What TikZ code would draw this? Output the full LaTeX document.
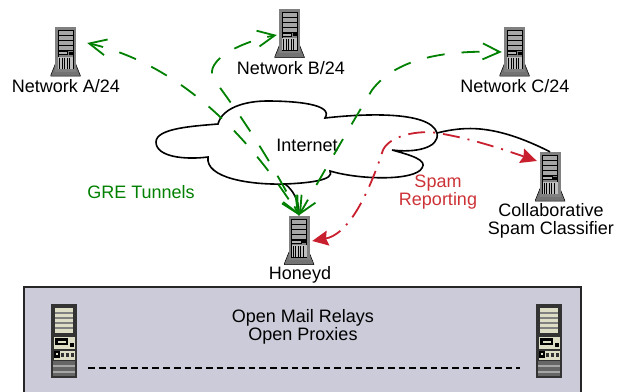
\documentclass[tikz,border=0pt]{standalone}
\usepackage{fontspec}
\setmainfont{Liberation Sans}
\usetikzlibrary{arrows.meta}
\definecolor{tunnelgreen}{RGB}{0,128,0}
\definecolor{spamred}{RGB}{200,32,46}
\definecolor{spamtext}{RGB}{205,50,55}
\definecolor{relaygray}{RGB}{203,203,217}
\definecolor{relaybeige}{RGB}{222,222,198}
% gray rack server, drawn around the centre of its node
\newcommand{\serverdrawing}{
  \begin{scope}[shift = {(path picture bounding box.center)}]
    \fill[black!55, draw = black, line width = 0.5] (-10,12) -- (-15,24.5) -- (15,24.5) -- (10,12) -- cycle;
    \fill[black!50] (-10.5,-24.5) rectangle (10.5,20);
    \draw[black, line width = 0.8] (-7.5,-21) rectangle (7.5,17);
    \foreach \bay in {-21,-16,-11,-6}
      \draw[fill = black!35, line width = 0.5] (-7.5,\bay) rectangle (7.5,\bay+5);
    \draw[fill = black!30, line width = 0.5] (-7.5,0) rectangle (2,3);
    \fill (3,0) rectangle (7,3);
    \fill[black!25] (-7.5,5) rectangle (7.5,17);
    \foreach \vent in {-6,-3.5,...,6}
      \draw[line width = 0.6] (\vent,6) -- (\vent,17);
  \end{scope}
}
% dark tower with beige bays
\newcommand{\relaydrawing}{
  \begin{scope}[shift = {(path picture bounding box.center)}]
    \fill[black!80] (-13,-37) rectangle (13,37);
    \fill[relaybeige] (-9,-33) rectangle (9,-8);
    \foreach \stripe in {-29,-24,-19,-14}
      \fill[black!50] (-9,\stripe) rectangle (9,\stripe+1.5);
    \fill[relaybeige] (-10,-4) rectangle (11,8);
    \fill[black] (-9,-3) rectangle (4,4);
    \fill[relaybeige] (-6,0) rectangle (2,2);
    \fill[black] (6,2) rectangle (10,6);
    \fill[relaybeige] (-10,10) rectangle (11,19);
    \fill[black] (-10,10) rectangle (-4,17);
    \fill[relaybeige] (-8,12) rectangle (-6,14);
    \foreach \knob in {-2,3,8}
      \fill[black!80] (\knob-1.5,12) rectangle (\knob+1.5,16);
    \fill[black!60] (-11,20) rectangle (11,35);
    \foreach \stripe in {24,30}
      \fill[black!35] (-11,\stripe) rectangle (11,\stripe+1.5);
  \end{scope}
}
\tikzset {
  x = 1pt,
  y = -1pt,
  label text/.style = {
    font = \fontsize{18}{18}\selectfont,
    align = center,
    inner sep = 0
  },
  server/.style = {
    inner sep = 0,
    minimum width = 30,
    minimum height = 49,
    path picture = {\serverdrawing}
  },
  relay/.style = {
    inner sep = 0,
    minimum width = 26,
    minimum height = 74,
    path picture = {\relaydrawing}
  },
  % long dashes with open tips at both ends
  tunnel/.style = {
    draw = tunnelgreen,
    line width = 1.8,
    dash pattern = on 18 off 17,
    dash phase = #1,
    {Straight Barb[length = 17, width = 16, line width = 1.8]}-{Straight Barb[length = 17, width = 16, line width = 1.8]}
  },
  report/.style = {
    draw = spamred,
    line width = 1.8,
    dash pattern = on 17 off 8 on 2 off 8,
    {Stealth[length = 16, width = 15, inset = 2]}-{Stealth[length = 16, width = 15, inset = 2]}
  },
  link/.style = {
    draw = black,
    line width = 1.6
  }
}
\begin{document}
\begin{tikzpicture}
  \useasboundingbox (0,0) rectangle (626,391);

  \node[draw = black!85, fill = relaygray, line width = 1.4, minimum width = 557, minimum height = 112, inner sep = 0] (relays) at (302.5,343) {};

  \node[server] (netA) at (65.5,51.5) {};
  \node[server] (netB) at (289.5,33) {};
  \node[server] (netC) at (514.5,51.5) {};
  \node[server] (classifier) at (550,176.5) {};
  \node[server] (honeyd) at (299,240) {};
  \node[relay] (relayL) at (64,341) {};
  \node[relay] (relayR) at (549,341) {};

  \node[label text] (netAlabel) at (66,86) {Network A/24};
  \node[label text] (netBlabel) at (291,68) {Network B/24};
  \node[label text] (netClabel) at (515,86) {Network C/24};
  \node[label text] (internet) at (307,145) {Internet};
  \node[label text, text = tunnelgreen] (gre) at (141,192) {GRE Tunnels};
  \node[label text, text = spamtext] (spam) at (438,192) {Spam\\Reporting};
  \node[label text] (classlabel) at (551,221) {Collaborative\\Spam Classifier};
  \node[label text] (honeydlabel) at (300,275) {Honeyd};
  \node[label text] (relaylabel) at (303,327) {Open Mail Relays\\Open Proxies};

  % cloud outline
  \draw[link] (156,142)
    .. controls (156,128) and (195,126) .. (218,124)
    .. controls (222,108) and (245,101) .. (267,101)
    .. controls (295,101) and (334,104) .. (325,118)
    .. controls (360,114) and (430,110) .. (437,133)
    .. controls (440,148) and (415,153) .. (392,150)
    .. controls (410,155) and (428,160) .. (422,168)
    .. controls (415,181) and (360,180) .. (330,171)
    .. controls (335,180) and (310,183) .. (285,184)
    .. controls (250,185) and (205,178) .. (208,157)
    .. controls (185,160) and (156,157) .. (156,142)
    -- cycle;

  \draw[link] (285,184) .. controls (293,190) and (299,200) .. (honeyd.north);
  \draw[link] (437,133) .. controls (465,126) and (495,124) .. (classifier.north);

  \draw[tunnel = 19] (honeyd.north) .. controls (240,122) and (170,62) .. ([shift = {(6.5,-8.5)}]netA.east);
  \draw[tunnel = 11] (honeyd.north) .. controls (260,140) and (225,95) .. (213,78)
    .. controls (205,60) and (240,42) .. ([shift = {(2.5,2)}]netB.west);
  \draw[tunnel = 3] (honeyd.north) .. controls (325,170) and (345,135) .. (372,90)
    .. controls (395,60) and (440,50) .. ([shift = {(2.5,0.5)}]netC.west);

  \draw[report] ([shift = {(-2,1)}]honeyd.east) .. controls (345,235) and (365,205) .. (383,150)
    .. controls (390,135) and (420,130) .. (437,133)
    .. controls (470,138) and (505,150) .. ([shift = {(2,-15.5)}]classifier.west);

  \draw[black, line width = 1.6, dash pattern = on 6.7 off 4] (relayL.east |- 0,368) ++(11,0) -- ([xshift = -16]relayR.west |- 0,368);
\end{tikzpicture}
\end{document}
